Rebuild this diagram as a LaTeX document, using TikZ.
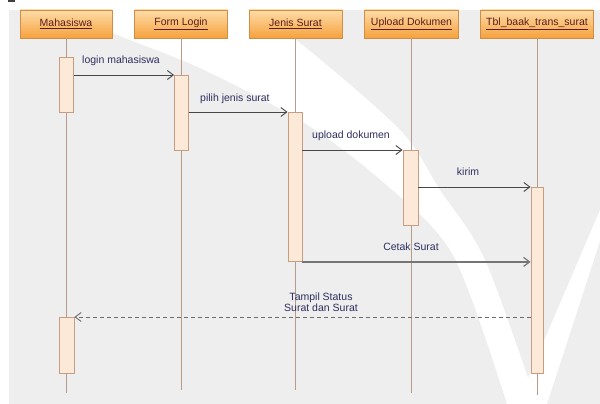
\documentclass[tikz,border=0pt]{standalone}
\usepackage{fontspec}
\setmainfont{Liberation Sans}
\usetikzlibrary{arrows.meta}
\definecolor{bg}{HTML}{EEEEEE}
\definecolor{headtop}{HTML}{FDDCA8}
\definecolor{headbot}{HTML}{F6A23E}
\definecolor{headborder}{HTML}{CF8E45}
\definecolor{headtext}{HTML}{5A1E1E}
\definecolor{lifec}{HTML}{B89C88}
\definecolor{actfill}{HTML}{FDE9D8}
\definecolor{actborder}{HTML}{C79C80}
\definecolor{lblc}{HTML}{2E2E5E}
\definecolor{arrowc}{HTML}{474747}
\tikzset{
  head/.style={draw=headborder, line width=0.8pt, top color=headtop, bottom color=headbot,
    minimum height=28, inner sep=0pt, text=headtext, font=\fontsize{10.5}{12}\selectfont},
  life/.style={draw=lifec, line width=0.9pt},
  actbox/.style={draw=actborder, fill=actfill, line width=0.9pt, minimum width=14, inner sep=0pt, anchor=north},
  lbl/.style={text=lblc, inner sep=0pt, font=\fontsize{10.5}{12}\selectfont},
  msg/.style={draw=arrowc, line width=0.9pt, -{Straight Barb[length=6pt,width=9pt]}},
  retmsg/.style={draw=arrowc!80, line width=0.9pt, dash pattern=on 4pt off 3pt, -{Straight Barb[length=6pt,width=9pt]}}
}
\begin{document}
\begin{tikzpicture}[x=1pt,y=-1pt]
\useasboundingbox (0,0) rectangle (600,404);
\fill[white] (0,0) rectangle (600,404);
\fill[bg] (9,10) rectangle (600,404);
\fill[black!75] (8,0) rectangle (15,2);
% watermark
\fill[white] plot[smooth] coordinates {(75,10) (113,33) (200,68) (303,122) (383,182) (453,255) (507,404)}
  -- plot[smooth] coordinates {(537,404) (485,260) (440,190) (400,130) (300,43) (248,10)} -- cycle;
\fill[white] (517,404) -- (600,210) -- (600,241) -- (547,404) -- cycle;
% headers
\node[head, minimum width=92] (h1) at (66,24) {\underline{Mahasiswa}};
\node[head, minimum width=93] (h2) at (181,24) {\underline{Form Login}};
\node[head, minimum width=93] (h3) at (295.5,24) {\underline{Jenis Surat}};
\node[head, minimum width=94] (h4) at (411.5,24) {\underline{Upload Dokumen}};
\node[head, minimum width=113] (h5) at (537,24) {\underline{Tbl\_baak\_trans\_surat}};
% lifelines
\coordinate (e1) at (66,393);
\coordinate (e2) at (181,390);
\coordinate (e3) at (295.5,390);
\coordinate (e4) at (411.5,393);
\coordinate (e5) at (537,395);
\draw[life] (h1.south) -- (e1);
\draw[life] (h2.south) -- (e2);
\draw[life] (h3.south) -- (e3);
\draw[life] (h4.south) -- (e4);
\draw[life] (h5.south) -- (e5);
% activations
\node[actbox, minimum height=55] (a1) at (66.5,57) {};
\node[actbox, minimum height=75] (a2) at (181.5,75) {};
\node[actbox, minimum height=149] (a3) at (295,112) {};
\node[actbox, minimum height=75, minimum width=15] (a4) at (410.5,150) {};
\node[actbox, minimum height=186, minimum width=12] (a5) at (537,187) {};
\node[actbox, minimum height=56, minimum width=15] (a6) at (66.5,317) {};
% messages
\draw[msg] (a1.east |- a2.north west) -- (a2.north west);
\node[lbl, anchor=base west] (l1) at (82,64) {login mahasiswa};
\draw[msg] (a2.east |- a3.north west) -- (a3.north west);
\node[lbl, anchor=base west] (l2) at (200,101) {pilih jenis surat};
\draw[msg] (a3.east |- a4.north west) -- (a4.north west);
\node[lbl, anchor=base west] (l3) at (312,138) {upload dokumen};
\draw[msg] (a4.east |- a5.north west) -- (a5.north west);
\node[lbl, anchor=base] (l4) at (468,175) {kirim};
\draw[msg, draw=arrowc!75, line width=1.2pt] (a3.south east) -- (a5.west |- a3.south east);
\node[lbl, anchor=base] (l5) at (411,250) {Cetak Surat};
\draw[retmsg] (a5.west |- a6.north east) -- (a6.north east);
\node[lbl, anchor=base] (l6) at (321,300) {Tampil Status};
\node[lbl, anchor=base] (l7) at (321,311) {Surat dan Surat};
\end{tikzpicture}
\end{document}
